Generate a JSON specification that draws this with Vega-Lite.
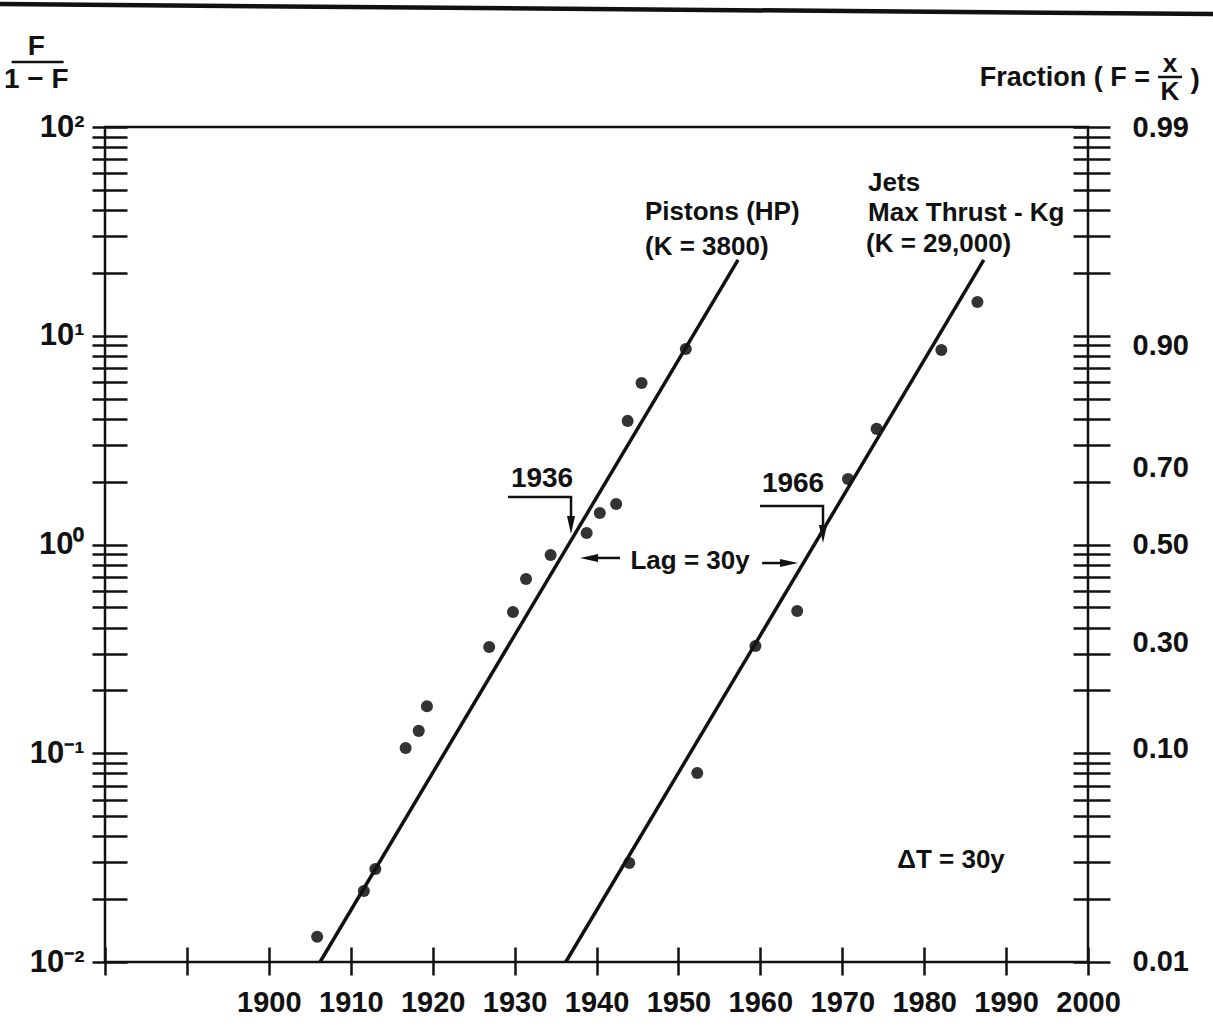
{
  "$schema": "https://vega.github.io/schema/vega-lite/v6.json",
  "width": 983,
  "height": 835,
  "autosize": {"type": "none"},
  "padding": {"left": 105, "top": 127, "right": 125, "bottom": 64},
  "background": "white",
  "config": {
    "view": {"stroke": "#111", "strokeWidth": 2.5},
    "font": "Liberation Sans, Arial, sans-serif",
    "axis": {
      "labelFont": "Liberation Sans, Arial, sans-serif",
      "labelFontWeight": "bold",
      "labelColor": "#111",
      "tickColor": "#111",
      "tickWidth": 2.5,
      "grid": false,
      "domain": false,
      "labelOverlap": false,
      "labelFlush": false,
      "labelBound": false
    }
  },
  "datasets": {
    "pts": [
      {"series": "Pistons", "year": 1905.9, "ratio": 0.0132},
      {"series": "Pistons", "year": 1911.6, "ratio": 0.0219},
      {"series": "Pistons", "year": 1913.0, "ratio": 0.0279},
      {"series": "Pistons", "year": 1916.7, "ratio": 0.106},
      {"series": "Pistons", "year": 1918.3, "ratio": 0.128},
      {"series": "Pistons", "year": 1919.3, "ratio": 0.168},
      {"series": "Pistons", "year": 1926.9, "ratio": 0.323},
      {"series": "Pistons", "year": 1929.8, "ratio": 0.475},
      {"series": "Pistons", "year": 1931.4, "ratio": 0.684},
      {"series": "Pistons", "year": 1934.4, "ratio": 0.891},
      {"series": "Pistons", "year": 1938.8, "ratio": 1.135},
      {"series": "Pistons", "year": 1940.4, "ratio": 1.415},
      {"series": "Pistons", "year": 1942.4, "ratio": 1.563},
      {"series": "Pistons", "year": 1943.8, "ratio": 3.91},
      {"series": "Pistons", "year": 1945.5, "ratio": 5.94},
      {"series": "Pistons", "year": 1950.9, "ratio": 8.64},
      {"series": "Jets", "year": 1944.0, "ratio": 0.0298},
      {"series": "Jets", "year": 1952.3, "ratio": 0.0804},
      {"series": "Jets", "year": 1959.4, "ratio": 0.3265},
      {"series": "Jets", "year": 1964.5, "ratio": 0.48},
      {"series": "Jets", "year": 1970.7, "ratio": 2.06},
      {"series": "Jets", "year": 1974.2, "ratio": 3.58},
      {"series": "Jets", "year": 1982.1, "ratio": 8.55},
      {"series": "Jets", "year": 1986.5, "ratio": 14.5}
    ],
    "fits": [
      {"series": "Pistons", "year": 1906.25, "ratio": 0.01},
      {"series": "Pistons", "year": 1957.28, "ratio": 23.07},
      {"series": "Jets", "year": 1936.25, "ratio": 0.01},
      {"series": "Jets", "year": 1987.28, "ratio": 23.07}
    ],
    "leaders": [
      {"id": "1936", "k": 1, "year": 1929.2, "ratio": 1.689},
      {"id": "1936", "k": 2, "year": 1936.89, "ratio": 1.689},
      {"id": "1936", "k": 3, "year": 1936.89, "ratio": 1.24},
      {"id": "1966", "k": 1, "year": 1959.96, "ratio": 1.529},
      {"id": "1966", "k": 2, "year": 1967.65, "ratio": 1.529},
      {"id": "1966", "k": 3, "year": 1967.65, "ratio": 1.123},
      {"id": "lagL", "k": 1, "year": 1942.87, "ratio": 0.862},
      {"id": "lagL", "k": 2, "year": 1939.09, "ratio": 0.862},
      {"id": "lagR", "k": 1, "year": 1960.21, "ratio": 0.815},
      {"id": "lagR", "k": 2, "year": 1963.5, "ratio": 0.815}
    ],
    "heads": [
      {"dir": "down", "year": 1936.89, "ratio": 1.24},
      {"dir": "down", "year": 1967.65, "ratio": 1.123},
      {"dir": "left", "year": 1939.09, "ratio": 0.862},
      {"dir": "right", "year": 1963.5, "ratio": 0.815}
    ],
    "bars": [
      {"year": 1868.6, "year2": 1874.95, "ratio": 204.8},
      {"year": 2008.55, "year2": 2011.48, "ratio": 173.6}
    ],
    "topline": [
      {"year": 1867.18, "year2": 2015.26, "ratio": 388, "ratio2": 347.5}
    ],
    "textLeft": [
      {"year": 1945.92, "ratio": 39.2, "text": "Pistons (HP)"},
      {"year": 1945.92, "ratio": 26.6, "text": "(K = 3800)"},
      {"year": 1973.15, "ratio": 53.9, "text": "Jets"},
      {"year": 1973.15, "ratio": 38.7, "text": "Max Thrust - Kg"},
      {"year": 1972.9, "ratio": 27.5, "text": "(K = 29,000)"}
    ],
    "textRight": [
      {"year": 2007.57, "ratio": 171.7, "text": "Fraction ( F ="}
    ],
    "textCenter": [
      {"year": 1933.35, "ratio": 2.06, "text": "1936"},
      {"year": 1963.99, "ratio": 1.949, "text": "1966"},
      {"year": 1871.6, "ratio": 241.7, "text": "F"},
      {"year": 1871.6, "ratio": 167.9, "text": "1 − F"},
      {"year": 2013.07, "ratio": 167.9, "text": ")"}
    ],
    "textSmall": [
      {"year": 1951.42, "ratio": 0.834, "text": "Lag = 30y"},
      {"year": 1983.28, "ratio": 0.0308, "text": "ΔT = 30y"},
      {"year": 2010.0, "ratio": 200.4, "text": "x"},
      {"year": 2010.0, "ratio": 147.2, "text": "K"}
    ]
  },
  "encoding": {
    "x": {
      "field": "year", "type": "quantitative",
      "scale": {"domain": [1880, 2000], "nice": false, "zero": false},
      "axis": {
        "orient": "bottom",
        "title": null,
        "values": [1880, 1890, 1900, 1910, 1920, 1930, 1940, 1950, 1960, 1970, 1980, 1990, 2000],
        "format": "d",
        "labelExpr": "datum.value >= 1900 ? datum.label : ''",
        "tickSize": 28,
        "offset": -15,
        "labelPadding": 13,
        "labelFontSize": 29
      }
    }
  },
  "layer": [
    {
      "data": {"name": "pts"},
      "mark": {"type": "point", "filled": true, "shape": "circle", "size": 145, "color": "#333", "opacity": 1, "strokeWidth": 0},
      "encoding": {
        "y": {
          "field": "ratio", "type": "quantitative",
          "scale": {"type": "log", "domain": [0.01, 100], "nice": false},
          "axis": {
            "orient": "left",
            "title": null,
            "values": [0.01, 0.02, 0.03, 0.04, 0.05, 0.06, 0.07, 0.08, 0.09, 0.1, 0.2, 0.3, 0.4, 0.5, 0.6, 0.7, 0.8, 0.9, 1, 2, 3, 4, 5, 6, 7, 8, 9, 10, 20, 30, 40, 50, 60, 70, 80, 90, 100],
            "labelExpr": "datum.value == 100 ? '10²' : datum.value == 10 ? '10¹' : datum.value == 1 ? '10⁰' : datum.value == 0.1 ? '10⁻¹' : datum.value == 0.01 ? '10⁻²' : ''",
            "tickSize": 35,
            "offset": -22,
            "labelPadding": 8,
            "labelFontSize": 31
          }
        }
      }
    },
    {
      "data": {"name": "fits"},
      "mark": {"type": "line", "color": "#111", "strokeWidth": 3.5},
      "encoding": {
        "y": {
          "field": "ratio", "type": "quantitative",
          "scale": {"type": "log", "domain": [0.01, 100], "nice": false},
          "axis": {
            "orient": "right",
            "title": null,
            "values": [0.01, 0.02, 0.03, 0.04, 0.05, 0.06, 0.07, 0.08, 0.09, 0.1, 0.2, 0.3, 0.4, 0.5, 0.6, 0.7, 0.8, 0.9, 1, 2, 3, 4, 5, 6, 7, 8, 9, 10, 20, 30, 40, 50, 60, 70, 80, 90, 100],
            "labels": false,
            "tickSize": 37,
            "offset": -15
          }
        },
        "detail": {"field": "series"}
      }
    },
    {
      "data": {"name": "leaders"},
      "mark": {"type": "line", "color": "#111", "strokeWidth": 2.5},
      "encoding": {
        "y": {
          "field": "ratio", "type": "quantitative",
          "scale": {"type": "log", "domain": [0.01, 100], "nice": false},
          "axis": {
            "orient": "right",
            "title": null,
            "values": [99, 9, 2.33, 1, 0.34, 0.105, 0.0101],
            "labelExpr": "datum.value == 99 ? '0.99' : datum.value == 9 ? '0.90' : datum.value == 2.33 ? '0.70' : datum.value == 1 ? '0.50' : datum.value == 0.34 ? '0.30' : datum.value == 0.105 ? '0.10' : '0.01'",
            "ticks": false,
            "tickSize": 0,
            "labelPadding": 44,
            "labelFontSize": 29
          }
        },
        "detail": {"field": "id"},
        "order": {"field": "k"}
      }
    },
    {
      "data": {"name": "heads"},
      "mark": {"type": "point", "filled": true, "size": 324, "color": "#111", "opacity": 1, "strokeWidth": 0},
      "encoding": {
        "y": {"field": "ratio", "type": "quantitative", "scale": {"type": "log", "domain": [0.01, 100], "nice": false}, "axis": null},
        "shape": {
          "field": "dir", "type": "nominal", "legend": null,
          "scale": {"domain": ["down", "left", "right"], "range": ["M-0.45,-1L0.45,-1L0,1Z", "M1,-0.45L1,0.45L-1,0Z", "M-1,-0.45L-1,0.45L1,0Z"]}
        }
      }
    },
    {
      "data": {"name": "bars"},
      "mark": {"type": "rule", "color": "#111", "strokeWidth": 2.5},
      "encoding": {
        "x2": {"field": "year2"},
        "y": {"field": "ratio", "type": "quantitative", "scale": {"type": "log", "domain": [0.01, 100], "nice": false}, "axis": null}
      }
    },
    {
      "data": {"name": "topline"},
      "mark": {"type": "rule", "color": "#111", "strokeWidth": 4.5},
      "encoding": {
        "x2": {"field": "year2"},
        "y": {"field": "ratio", "type": "quantitative", "scale": {"type": "log", "domain": [0.01, 100], "nice": false}, "axis": null},
        "y2": {"field": "ratio2"}
      }
    },
    {
      "data": {"name": "textLeft"},
      "mark": {"type": "text", "align": "left", "baseline": "middle", "fontSize": 26, "fontWeight": "bold", "color": "#111"},
      "encoding": {
        "y": {"field": "ratio", "type": "quantitative", "scale": {"type": "log", "domain": [0.01, 100], "nice": false}, "axis": null},
        "text": {"field": "text"}
      }
    },
    {
      "data": {"name": "textRight"},
      "mark": {"type": "text", "align": "right", "baseline": "middle", "fontSize": 27, "fontWeight": "bold", "color": "#111"},
      "encoding": {
        "y": {"field": "ratio", "type": "quantitative", "scale": {"type": "log", "domain": [0.01, 100], "nice": false}, "axis": null},
        "text": {"field": "text"}
      }
    },
    {
      "data": {"name": "textCenter"},
      "mark": {"type": "text", "align": "center", "baseline": "middle", "fontSize": 28, "fontWeight": "bold", "color": "#111"},
      "encoding": {
        "y": {"field": "ratio", "type": "quantitative", "scale": {"type": "log", "domain": [0.01, 100], "nice": false}, "axis": null},
        "text": {"field": "text"}
      }
    },
    {
      "data": {"name": "textSmall"},
      "mark": {"type": "text", "align": "center", "baseline": "middle", "fontSize": 26, "fontWeight": "bold", "color": "#111"},
      "encoding": {
        "y": {"field": "ratio", "type": "quantitative", "scale": {"type": "log", "domain": [0.01, 100], "nice": false}, "axis": null},
        "text": {"field": "text"}
      }
    }
  ],
  "resolve": {"axis": {"y": "independent"}}
}
